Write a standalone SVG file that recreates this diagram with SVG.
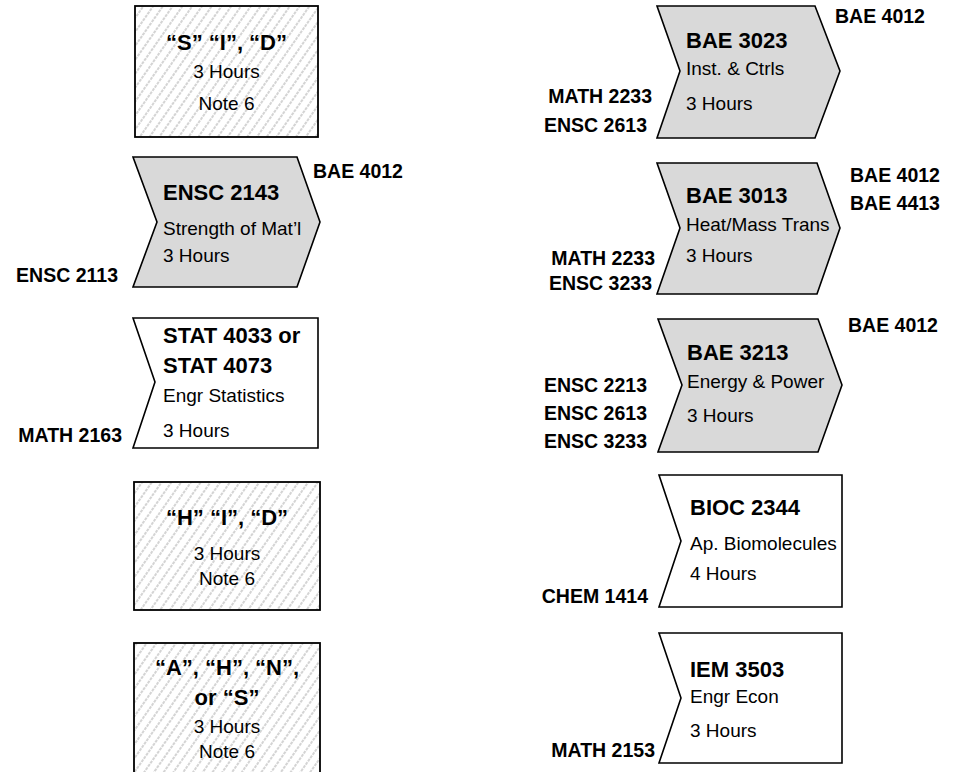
<svg xmlns="http://www.w3.org/2000/svg" width="978" height="772" viewBox="0 0 978 772">
<defs>
<pattern id="hatch" width="8" height="8" patternUnits="userSpaceOnUse" patternTransform="rotate(35)">
<rect width="8" height="8" fill="#ffffff"/>
<line x1="1" y1="0" x2="1" y2="8" stroke="#b8b8b8" stroke-width="1.2" stroke-dasharray="3 1"/>
</pattern>
</defs>
<style>
.hat{fill:url(#hatch);stroke:#000;stroke-width:1.8}
.chev{fill:#d9d9d9;stroke:#000;stroke-width:1.6;stroke-linejoin:miter}
.plain{fill:#fff;stroke:#000;stroke-width:1.6}
text{font-family:"Liberation Sans",Arial,sans-serif;fill:#000}
.t{font-size:22px;font-weight:bold}
.b{font-size:19px}
.l{font-size:19.5px;font-weight:bold;text-anchor:end}
.lr{font-size:19.5px;font-weight:bold}
.c{text-anchor:middle}
</style>
<rect width="978" height="772" fill="#fff"/>
<g id="connectors"></g>

<g id="elective-sid">
<rect class="hat" x="135" y="6" width="183" height="131"/>
<text class="t c" x="226.5" y="50">“S” “I”, “D”</text>
<text class="b c" x="226.5" y="78">3 Hours</text>
<text class="b c" x="226.5" y="110">Note 6</text>
</g>

<g id="ensc2143">
<polygon class="chev" points="133,157 297,157 320,222 297,287 133,287 157,222"/>
<text class="t" x="163" y="200">ENSC 2143</text>
<text class="b" x="163" y="235">Strength of Mat’l</text>
<text class="b" x="163" y="262">3 Hours</text>
<text class="lr" x="313" y="178">BAE 4012</text>
<text class="l" x="118" y="282">ENSC 2113</text>
</g>

<g id="stat4033">
<polygon class="plain" points="133,318 318,318 318,448 133,448 155,382"/>
<text class="t" x="163" y="343">STAT 4033 or</text>
<text class="t" x="163" y="373">STAT 4073</text>
<text class="b" x="163" y="402">Engr Statistics</text>
<text class="b" x="163" y="437">3 Hours</text>
<text class="l" x="122" y="442">MATH 2163</text>
</g>

<g id="elective-hid">
<rect class="hat" x="134" y="482" width="186" height="128"/>
<text class="t c" x="227" y="525">“H” “I”, “D”</text>
<text class="b c" x="227" y="560">3 Hours</text>
<text class="b c" x="227" y="585">Note 6</text>
</g>

<g id="elective-ahns">
<rect class="hat" x="134" y="643" width="186" height="135"/>
<text class="t c" x="227" y="675">“A”, “H”, “N”,</text>
<text class="t c" x="227" y="705">or “S”</text>
<text class="b c" x="227" y="733">3 Hours</text>
<text class="b c" x="227" y="758">Note 6</text>
</g>

<g id="bae3023">
<polygon class="chev" points="657,6 815,6 840,71 815,138 657,138 680,71"/>
<text class="t" x="686" y="48">BAE 3023</text>
<text class="b" x="686" y="75">Inst. &amp; Ctrls</text>
<text class="b" x="686" y="110">3 Hours</text>
<text class="lr" x="835" y="23">BAE 4012</text>
<text class="l" x="652" y="103">MATH 2233</text>
<text class="l" x="647" y="132">ENSC 2613</text>
</g>

<g id="bae3013">
<polygon class="chev" points="657,163 817,163 840,228 817,294 657,294 680,228"/>
<text class="t" x="686" y="203">BAE 3013</text>
<text class="b" x="686" y="231">Heat/Mass Trans</text>
<text class="b" x="686" y="262">3 Hours</text>
<text class="lr" x="850" y="182">BAE 4012</text>
<text class="lr" x="850" y="210">BAE 4413</text>
<text class="l" x="655" y="265">MATH 2233</text>
<text class="l" x="652" y="290">ENSC 3233</text>
</g>

<g id="bae3213">
<polygon class="chev" points="658,319 818,319 842,385 818,452 658,452 682,385"/>
<text class="t" x="687" y="360">BAE 3213</text>
<text class="b" x="687" y="388">Energy &amp; Power</text>
<text class="b" x="687" y="422">3 Hours</text>
<text class="lr" x="848" y="332">BAE 4012</text>
<text class="l" x="647" y="392">ENSC 2213</text>
<text class="l" x="647" y="420">ENSC 2613</text>
<text class="l" x="647" y="448">ENSC 3233</text>
</g>

<g id="bioc2344">
<polygon class="plain" points="659,475 842,475 842,607 659,607 681,541"/>
<text class="t" x="690" y="515">BIOC 2344</text>
<text class="b" x="690" y="550">Ap. Biomolecules</text>
<text class="b" x="690" y="580">4 Hours</text>
<text class="l" x="648" y="603">CHEM 1414</text>
</g>

<g id="iem3503">
<polygon class="plain" points="659,633 842,633 842,763 659,763 681,698"/>
<text class="t" x="690" y="677">IEM 3503</text>
<text class="b" x="690" y="703">Engr Econ</text>
<text class="b" x="690" y="737">3 Hours</text>
<text class="l" x="655" y="757">MATH 2153</text>
</g>
</svg>
